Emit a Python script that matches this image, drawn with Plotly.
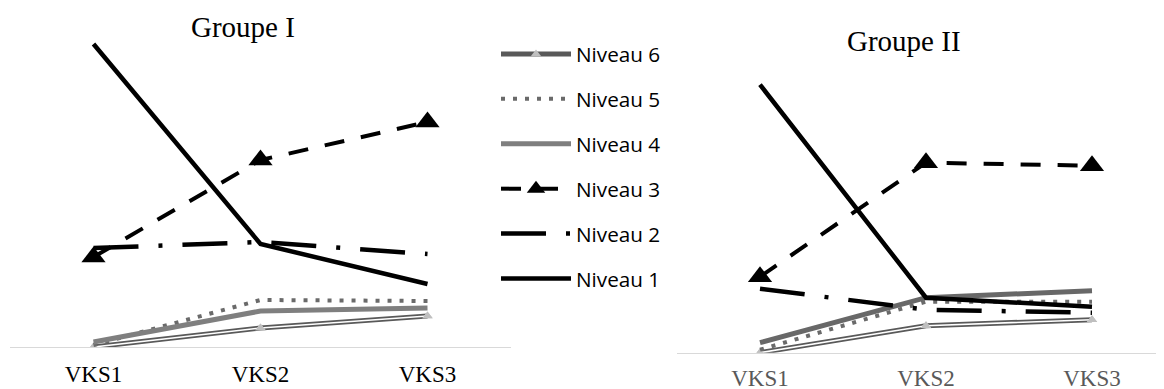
import plotly.graph_objects as go

categories = ["VKS1", "VKS2", "VKS3"]
levels = ["Niveau 6", "Niveau 5", "Niveau 4", "Niveau 3", "Niveau 2", "Niveau 1"]

# values (arbitrary units)
g1_n1 = [60.6, 20.6, 12.6]
g1_n2 = [19.8, 21.0, 18.6]
g1_n3 = [18.0, 37.4, 45.0]
g1_n4 = [1.0, 7.2, 7.8]
g1_n5 = [0.4, 9.4, 9.2]
g1_n6 = [0.0, 3.8, 6.2]

g2_n1 = [53.6, 11.0, 9.2]
g2_n2 = [12.8, 8.6, 8.0]
g2_n3 = [15.2, 38.0, 37.4]
g2_n4 = [2.0, 11.0, 12.4]
g2_n5 = [0.6, 10.2, 10.2]
g2_n6 = [0.0, 5.4, 6.6]

titles = ["Groupe I", "Groupe II"]

W, H = 1164, 389
OFF = 8  # page body margin offset


def px_x(v):
    return (v - OFF) / W


def px_y(v):
    return 1 - (v - OFF) / H


fig = go.Figure()

styles = {
    "Niveau 5": dict(color="#6a6a6a", width=4, dash="4px,8px"),
    "Niveau 4": dict(color="#7f7f7f", width=5),
    "Niveau 3": dict(color="#000000", width=4, dash="20px,17px"),
    "Niveau 2": dict(color="#000000", width=4.5, dash="45px,20px,4px,20px"),
    "Niveau 1": dict(color="#000000", width=4.5),
}

groups = [
    ("x", "y", [g1_n6, g1_n5, g1_n4, g1_n3, g1_n2, g1_n1], True, "#7f7f7f"),
    ("x2", "y2", [g2_n6, g2_n5, g2_n4, g2_n3, g2_n2, g2_n1], False, "#686868"),
]

for xa, ya, series, show, n4col in groups:
    for name, vals in zip(levels, series):
        if name == "Niveau 6":
            fig.add_trace(go.Scatter(x=categories, y=vals, name=name, mode="lines+markers",
                                     line=dict(color="#595959", width=5),
                                     marker=dict(symbol="triangle-up", size=9, color="#bfbfbf"),
                                     legendgroup=name, showlegend=show, xaxis=xa, yaxis=ya,
                                     hoverinfo="skip"))
            fig.add_trace(go.Scatter(x=categories, y=vals, mode="lines",
                                     line=dict(color="#ffffff", width=1.6),
                                     legendgroup=name, showlegend=False, xaxis=xa, yaxis=ya,
                                     hoverinfo="skip"))
            fig.add_trace(go.Scatter(x=categories, y=vals, mode="markers",
                                     marker=dict(symbol="triangle-up", size=9, color="#bfbfbf"),
                                     legendgroup=name, showlegend=False, xaxis=xa, yaxis=ya,
                                     hoverinfo="skip"))
        elif name == "Niveau 3":
            fig.add_trace(go.Scatter(x=categories, y=vals, name=name, mode="lines+markers",
                                     line=styles[name],
                                     marker=dict(symbol="triangle-up", size=21, color="#000000"),
                                     legendgroup=name, showlegend=show, xaxis=xa, yaxis=ya,
                                     hoverinfo="skip"))
        else:
            st = dict(styles[name])
            if name == "Niveau 4":
                st["color"] = n4col
            fig.add_trace(go.Scatter(x=categories, y=vals, name=name, mode="lines",
                                     line=st,
                                     legendgroup=name, showlegend=show, xaxis=xa, yaxis=ya,
                                     hoverinfo="skip"))

axis_common = dict(type="category", showgrid=False, zeroline=False, showline=True,
                   linecolor="#d9d9d9", linewidth=1, ticks="", fixedrange=True)

base1, base2 = 347, 352.7
fig.update_layout(
    width=W, height=H,
    margin=dict(l=0, r=0, t=0, b=0),
    paper_bgcolor="white", plot_bgcolor="rgba(0,0,0,0)",
    xaxis=dict(domain=[px_x(10), px_x(511)], range=[-0.5, 2.5], anchor="y",
               tickfont=dict(family="Liberation Serif", size=23, color="#000000"),
               ticklabelstandoff=6, **axis_common),
    yaxis=dict(domain=[px_y(base1), 1], range=[0, (base1 - OFF) / 5], visible=False, anchor="x"),
    xaxis2=dict(domain=[px_x(677), 1], range=[-0.5, (W + OFF - 760) / 166], anchor="y2",
                tickfont=dict(family="Liberation Serif", size=23, color="#595959"),
                ticklabelstandoff=5, **axis_common),
    yaxis2=dict(domain=[px_y(base2), 1], range=[0, (base2 - OFF) / 5], visible=False, anchor="x2"),
    legend=dict(x=px_x(496), xanchor="left", y=px_y(34), yanchor="top",
                font=dict(family="Open Sans", size=20.7, color="#000000"),
                tracegroupgap=15, itemwidth=70, bgcolor="rgba(0,0,0,0)"),
    annotations=[
        dict(text=titles[0], x=px_x(243), y=px_y(27), xref="paper", yref="paper",
             xanchor="center", yanchor="middle", showarrow=False,
             font=dict(family="Liberation Serif", size=29, color="#000000")),
        dict(text=titles[1], x=px_x(904), y=px_y(41), xref="paper", yref="paper",
             xanchor="center", yanchor="middle", showarrow=False,
             font=dict(family="Liberation Serif", size=29, color="#000000")),
    ],
)

fig.write_html("out.html")
